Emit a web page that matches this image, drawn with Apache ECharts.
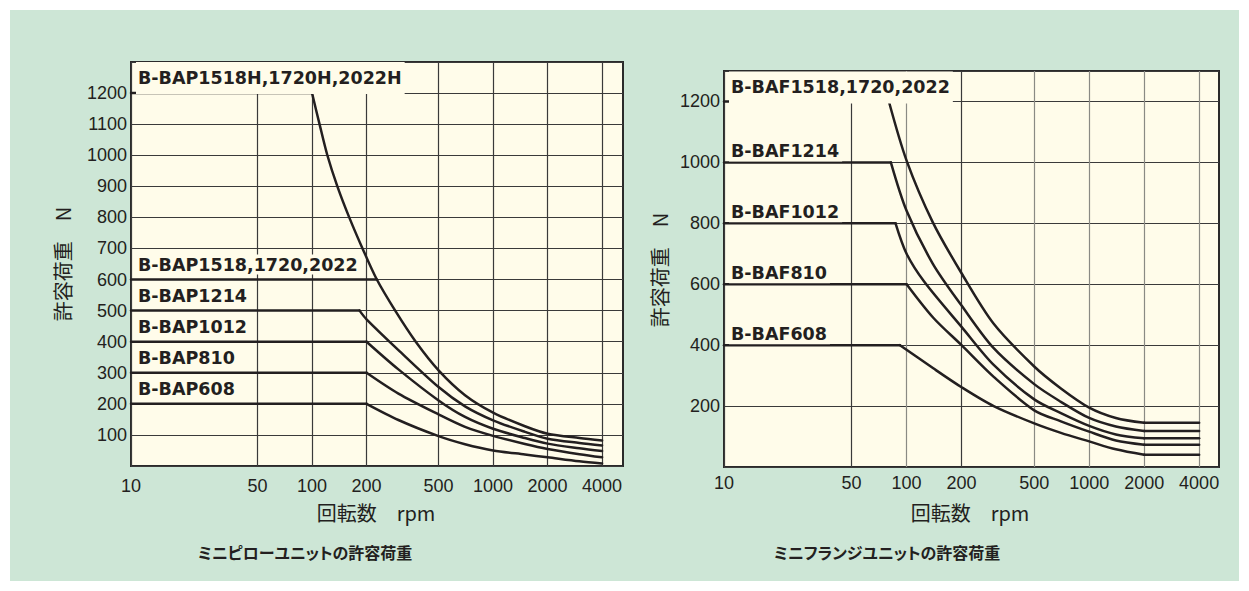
<!DOCTYPE html>
<html>
<head>
<meta charset="utf-8">
<script src="https://cdn.jsdelivr.net/npm/echarts@6/dist/echarts.min.js"></script>
<style>
  html, body { margin: 0; padding: 0; background: #ffffff; }
  #chart { width: 1249px; height: 591px; }
  /* proportional kana, like the printed captions */
  #chart text { font-feature-settings: "palt" 1 !important; }
</style>
</head>
<body>
<div id="chart"></div>
<script>
// x ticks (rpm), drawn as grid lines + labels
const rpmTicks = [10, 50, 100, 200, 500, 1000, 2000, 4000];

// left chart: mini pillow units
const pillowNames = ['B-BAP1518H,1720H,2022H', 'B-BAP1518,1720,2022', 'B-BAP1214', 'B-BAP1012', 'B-BAP810', 'B-BAP608'];
const pillowH = [[10, 1200], [100, 1200], [110, 1100], [121.5, 1000], [138, 900], [160.5, 800], [190, 700], [228, 600], [288, 500], [374, 400], [500, 308], [700, 228], [1000, 172], [1500, 128], [2000, 104], [3000, 90], [4000, 82]];
// the 1518 line runs flat until it meets the H curve
const pillow1518 = [[10, 600], [228, 600]];
const pillow1214 = [[10, 500], [183, 500], [200, 472], [300, 373], [500, 254], [700, 192], [1000, 147], [1500, 110], [2000, 88], [3000, 74], [4000, 66]];
const pillow1012 = [[10, 400], [200, 400], [300, 311], [500, 211], [700, 158], [1000, 120], [1500, 90], [2000, 72], [3000, 57], [4000, 48]];
const pillow810 = [[10, 300], [200, 300], [300, 233], [500, 166], [700, 126], [1000, 97], [1500, 71], [2000, 55], [3000, 38], [4000, 28]];
const pillow608 = [[10, 200], [200, 200], [300, 148], [500, 96], [700, 70], [1000, 50], [1500, 37], [2000, 28], [3000, 15], [4000, 8]];

// right chart: mini flange units
const flangeNames = ['B-BAF1518,1720,2022', 'B-BAF1214', 'B-BAF1012', 'B-BAF810', 'B-BAF608'];
const flange1518 = [[10, 1200], [80, 1200], [100, 1006], [139, 804], [200, 636], [300, 470], [500, 330], [700, 258], [1000, 195], [1400, 161], [2000, 145], [4000, 145]];
const flange1214 = [[10, 1000], [82, 1000], [100, 841], [139, 668], [200, 530], [300, 390], [500, 272], [700, 214], [1000, 161], [1400, 133], [2000, 118], [4000, 118]];
const flange1012 = [[10, 800], [87, 800], [100, 700], [125, 608], [200, 460], [300, 335], [500, 222], [700, 177], [1000, 135], [1400, 107], [2000, 94], [4000, 94]];
const flange810 = [[10, 600], [100, 600], [140, 490], [200, 400], [300, 296], [500, 186], [700, 150], [1000, 116], [1400, 87], [2000, 73], [4000, 73]];
const flange608 = [[10, 400], [92, 400], [140, 324], [200, 262], [300, 200], [500, 143], [700, 112], [1000, 84], [1400, 58], [2000, 40], [4000, 40]];

const pillowData = [pillowH, pillow1518, pillow1214, pillow1012, pillow810, pillow608];
const flangeData = [flange1518, flange1214, flange1012, flange810, flange608];

const INK = '#231f20';
const PLOT_BG = '#fffcea';
const FONT = '"Liberation Sans", Arial, sans-serif';
const BOLD = '"DejaVu Sans", sans-serif';
const CJK = '"Noto Sans CJK JP", sans-serif';

const chart = echarts.init(document.getElementById('chart'), null, { renderer: 'svg' });

function piece(data, gi, smooth) {
  return {
    type: 'line', xAxisIndex: gi, yAxisIndex: gi, data: data,
    showSymbol: false, symbol: 'none', smooth: smooth,
    lineStyle: { color: INK, width: 2.5, cap: 'round', join: 'round' }, z: 5, silent: true
  };
}

// flat head, smooth fall, and (flange only) flat tail
function curveSeries(data, gi, flatTail) {
  const out = [piece(data.slice(0, 2), gi, false)];
  if (data.length <= 2) return out;
  if (flatTail) {
    out.push(piece(data.slice(1, -1), gi, 0.3));
    out.push(piece(data.slice(-2), gi, false));
  } else {
    out.push(piece(data.slice(1), gi, 0.3));
  }
  return out;
}

// vertical grid lines at the rpm ticks, with the tick text under the plot
function rpmGrid(gi, colors, dist) {
  return {
    type: 'line', xAxisIndex: gi, yAxisIndex: gi, data: [], z: 2, silent: true,
    markLine: {
      silent: true, symbol: 'none', animation: false,
      label: { show: true, position: 'start', distance: dist, color: INK, fontSize: 18, fontFamily: FONT, formatter: p => String(p.value) },
      data: rpmTicks.map((v, i) => ({ xAxis: v, lineStyle: { color: colors[i], width: 1.2, type: 'solid' } }))
    }
  };
}

const yLabel = (v) => (v === 0 || v > 1200 ? '' : String(v));

const option = {
  backgroundColor: '#ffffff',
  animation: false,
  grid: [
    { left: 131, top: 62, width: 492, height: 404, show: true, backgroundColor: PLOT_BG, borderColor: '#2a2a2a', borderWidth: 2 },
    { left: 724, top: 71, width: 495, height: 396, show: true, backgroundColor: PLOT_BG, borderColor: '#2a2a2a', borderWidth: 2 }
  ],
  xAxis: [
    { type: 'log', gridIndex: 0, logBase: 10, min: 10, max: 5220, axisLine: { show: false }, axisTick: { show: false }, axisLabel: { show: false }, splitLine: { show: false } },
    { type: 'log', gridIndex: 1, logBase: 10, min: 10, max: 5140, axisLine: { show: false }, axisTick: { show: false }, axisLabel: { show: false }, splitLine: { show: false } }
  ],
  yAxis: [
    { type: 'value', gridIndex: 0, min: 0, max: 1300, interval: 100, axisLine: { show: false }, axisTick: { show: false },
      axisLabel: { formatter: yLabel, color: INK, fontSize: 18, fontFamily: FONT, margin: 4 },
      splitLine: { lineStyle: { color: '#3a3a3a', width: 1.2 } } },
    { type: 'value', gridIndex: 1, min: 0, max: 1300, interval: 200, axisLine: { show: false }, axisTick: { show: false },
      axisLabel: { formatter: yLabel, color: INK, fontSize: 18, fontFamily: FONT, margin: 4 },
      splitLine: { lineStyle: { color: '#3a3a3a', width: 1.2 } } }
  ],
  series: [
    rpmGrid(0, rpmTicks.map(() => '#3a3a3a'), 11),
    rpmGrid(1, ['#3a3a3a', '#3a3a3a', '#8a8a84', '#3a3a3a', '#8a8a84', '#8a8a84', '#8a8a84', '#8a8a84'], 7),
    ...pillowData.flatMap(d => curveSeries(d, 0, false)),
    ...flangeData.flatMap(d => curveSeries(d, 1, true))
  ]
};
chart.setOption(option);

// series names written above their flat segments, plus the axis names and captions
const labelEls = [];
function nameLabel(text, gi, y, dy, pad) {
  const p = chart.convertToPixel({ gridIndex: gi }, [10, y]);
  labelEls.push({
    type: 'text', x: p[0] + 5, y: p[1] - dy, z: 10, silent: true,
    style: { text: text, fill: INK, font: 'bold 17.5px ' + BOLD, verticalAlign: 'middle', align: 'left',
      backgroundColor: PLOT_BG, padding: pad }
  });
}
nameLabel(pillowNames[0], 0, 1200, 15, [7, 3, 7, 2]);
[600, 500, 400, 300, 200].forEach((v, i) => nameLabel(pillowNames[i + 1], 0, v, 15, [1, 3, 1, 2]));
nameLabel(flangeNames[0], 1, 1200, 14, [7, 3, 7, 2]);
[1000, 800, 600, 400].forEach((v, i) => nameLabel(flangeNames[i + 1], 1, v, 11, [1, 3, 1, 2]));

chart.setOption({
  graphic: [
    { type: 'rect', z: -10, silent: true, shape: { x: 10, y: 10, width: 1229, height: 571 }, style: { fill: '#cde6d6' } },
    { type: 'text', x: 376, y: 512, silent: true, style: { text: '回転数\u3000rpm', fill: INK, font: '20px ' + CJK, align: 'center', verticalAlign: 'middle' } },
    { type: 'text', x: 970, y: 512, silent: true, style: { text: '回転数\u3000rpm', fill: INK, font: '20px ' + CJK, align: 'center', verticalAlign: 'middle' } },
    { type: 'text', x: 62, y: 264, rotation: Math.PI / 2, silent: true, style: { text: '許容荷重\u3000N', fill: INK, font: '20px ' + CJK, align: 'center', verticalAlign: 'middle' } },
    { type: 'text', x: 659, y: 270, rotation: Math.PI / 2, silent: true, style: { text: '許容荷重\u3000N', fill: INK, font: '20px ' + CJK, align: 'center', verticalAlign: 'middle' } },
    { type: 'text', x: 305, y: 552, silent: true, style: { text: 'ミニピローユニットの許容荷重', fill: INK, font: 'bold 16px ' + CJK, align: 'center', verticalAlign: 'middle' } },
    { type: 'text', x: 887, y: 552, silent: true, style: { text: 'ミニフランジユニットの許容荷重', fill: INK, font: 'bold 16px ' + CJK, align: 'center', verticalAlign: 'middle' } },
    ...labelEls
  ]
});
</script>
</body>
</html>
